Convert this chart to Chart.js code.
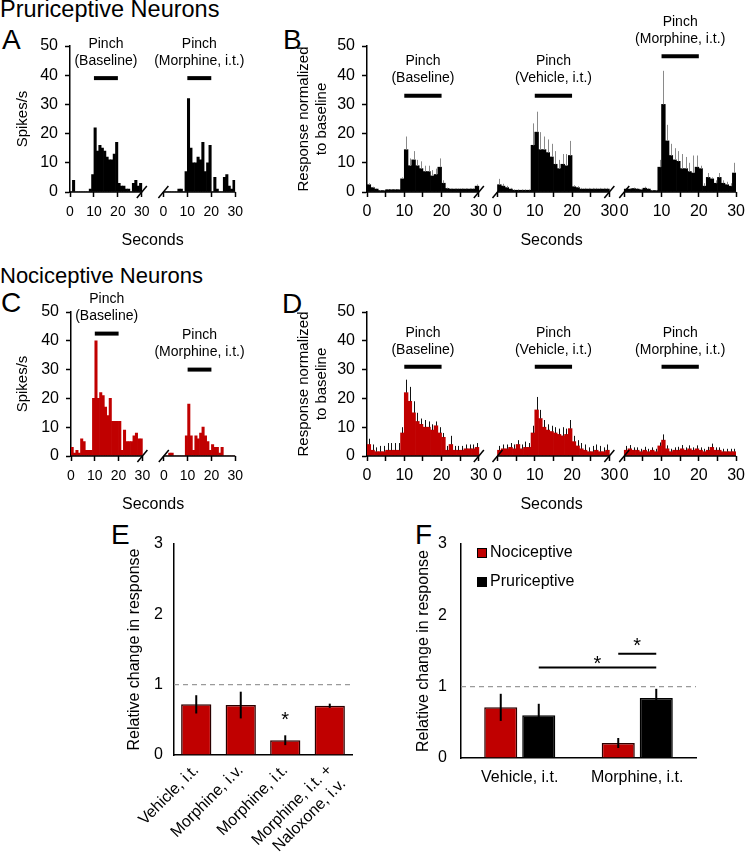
<!DOCTYPE html>
<html>
<head>
<meta charset="utf-8">
<script src="https://cdn.jsdelivr.net/npm/chart.js@4/dist/chart.umd.min.js"></script>
<style>
  body { margin: 0; width: 748px; height: 853px; position: relative; overflow: hidden; background: #fff;
         font-family: "Liberation Sans", Arial, Helvetica, sans-serif; }
  canvas { position: absolute; }
  .lbl { position: absolute; line-height: 1; color: #000; white-space: nowrap; }
  .pl { font-size: 28px; }
</style>
</head>
<body>
<div class="lbl" style="left:0;top:-2px;font-size:23.5px">Pruriceptive Neurons</div>
<div class="lbl" style="left:0;top:265px;font-size:22px">Nociceptive Neurons</div>
<div class="lbl pl" style="left:2px;top:26px">A</div>
<div class="lbl pl" style="left:283px;top:26px">B</div>
<div class="lbl pl" style="left:1px;top:289px">C</div>
<div class="lbl pl" style="left:282px;top:290px">D</div>
<div class="lbl pl" style="left:111px;top:521px">E</div>
<div class="lbl pl" style="left:415px;top:521px">F</div>

<canvas id="chartA" width="250" height="250" style="left:0;top:10px"></canvas>
<canvas id="chartB" width="500" height="250" style="left:250px;top:10px"></canvas>
<canvas id="chartC" width="250" height="250" style="left:0;top:276px"></canvas>
<canvas id="chartD" width="500" height="250" style="left:250px;top:276px"></canvas>
<canvas id="chartE" width="270" height="333" style="left:100px;top:520px"></canvas>
<canvas id="chartF" width="348" height="333" style="left:400px;top:520px"></canvas>

<script>
// spike histograms, 1 s bins from 0 to 29 s
const aBaseline = [0,4,0,0,0,0,0,0,1,6, 22,14,16,15,14,12,11,11,13,17, 3,2,2,1,1,0,3,4,2,3];
const aMorphine = [0,0,0,0,0,0,1,1,0,7, 32,15,10,10,12,11,17,7,10,16, 0,5,1,0,0,5,6,2,1,4];

const bBaseline    = [2.5,1.5,1,0.5,0.5,0.8,0.8,0.8,0.8,4.5, 14.5,9,11,9,8,7,7,5.5,6,8.5, 3,1.2,1,1,1,1,1,1,1,2];
const bBaselineErr = [0.5,0.3,0.2,0.2,0.2,0.2,0.2,0.2,0.2,0.5, 4.5,2.5,3,2,2.5,2,2,2,2,3, 1,0.3,0.2,0.2,0.2,0.3,0.3,0.3,0.3,0.6];
const bVehicle     = [2.5,2,1.5,1,0.6,0.6,0.6,0.6,0.6,16, 20.5,14.5,14.5,13.5,12,9.5,8,9.5,9,12.5, 1.8,1.5,1,1,1,1,1,1,1,1];
const bVehicleErr  = [2,0.8,0.6,0.4,0.3,0.3,0.3,0.3,0.3,7.5, 7,6,4.5,4.5,4.5,4.5,3,3.5,4,5, 0.5,0.5,0.4,0.4,0.4,0.4,0.4,0.4,0.4,0.4];
const bMorphine    = [1,1,1.2,1,0.8,1.3,1,0.5,0.5,8.5, 30,17.5,12.5,11,10.5,8,8,7,6.5,8.5, 8,2,5,4.5,3,5,3,2.5,2,6.5];
const bMorphineErr = [0.3,0.3,0.3,0.3,0.3,0.5,0.3,0.2,0.2,2.5, 11.5,5.5,4,4,3.5,5,4,3,6,4, 1,1,1.5,0.5,1,1.5,1,1,1,3.5];

const cBaseline = [3,1,2,1,6,5,2,2,2,20, 40,20,22,21,17,14,20,12,12,12, 12,2,9,5,5,5,7,8,6,6];
const cMorphine = [0,0,1,1,0,0,0,0,0,7, 18,7,2,7,6,8,10,7,5,2, 4,3,3,1,3,0,0,0,0,0];

const dBaseline    = [4,2,1.5,1.5,1.5,2,2,2,2,8, 22,19,15,12,11,10,10,9,10.5,8, 6.5,2,4,2,2,2,2.5,2.5,2.5,3];
const dBaselineErr = [2,2,1.5,2,2,2.5,2.5,2.5,2.5,2, 4.5,5,4,3,2,2.5,2,2,1.5,2, 1.5,1.5,3,1.5,1.5,1.5,1.5,1.5,1.5,1.5];
const dVehicle     = [2,2.5,2.5,3,2.5,4,2.5,3,3,8, 16,13,10,9,8.5,8,7.5,7,7.5,9.5, 5,3.5,2.5,2,1.5,1.5,2,1.5,1.5,2];
const dVehicleErr  = [1.5,1.5,1.5,1.5,1.5,1.5,1.5,2,1.5,2.5, 4.5,3,2.5,2,2,2,2,3,2,3, 2,2,2,2,1.5,2,2,2,1.5,2];
const dMorphine    = [2,2.5,2,2,1.5,2,1.5,2,1.5,3.5, 5.5,2.5,1.5,2,2,2.5,2,2.5,2,2.5, 2,1.5,2,3,2,2,1.5,1.5,1.5,1.5];
const dMorphineErr = [1.5,1.3,1,1,1,1.2,1,1,1,1.2, 2,1.2,1,1,1.2,1.3,1,1.2,1,1.2, 1,1,1.2,1.3,1,1,1,1,1,1];

// pinch period (s) and height of the marker bar
const pinchPeriod = [10, 20];
const pinchA = [39, 39];
const pinchB = [33, 33, 46.5];
const pinchC = [42.5, 30];
const pinchD = [31, 31, 31];

// E: relative change, nociceptive neurons
const eLabels = ['Vehicle, i.t.', 'Morphine, i.v.', 'Morphine, i.t.', ['Morphine, i.t. +', 'Naloxone, i.v.']];
const eValues = [0.72, 0.71, 0.21, 0.70];
const eErrors = [0.13, 0.19, 0.07, 0.03];

// F: nociceptive vs pruriceptive
const fLabels = ['Vehicle, i.t.', 'Morphine, i.t.'];
const fNoci = [0.71, 0.21];
const fNociErr = [0.19, 0.07];
const fPrur = [0.60, 0.84];
const fPrurErr = [0.16, 0.13];

const RED = '#C00000';
const FONT = '"Liberation Sans", Arial, Helvetica, sans-serif';
Chart.defaults.font.family = FONT;
Chart.defaults.color = '#000';
Chart.defaults.animation = false;
Chart.defaults.plugins.legend.display = false;
Chart.defaults.plugins.tooltip.enabled = false;

const SEG = 30;

function segPoints(series, offsets) {
  const pts = [];
  series.forEach((vals, k) => vals.forEach((v, t) => pts.push({ x: offsets[k] + t + 0.5, y: v })));
  return pts;
}

function slash(ctx, x, y) {
  ctx.beginPath();
  ctx.moveTo(x - 5, y + 6);
  ctx.lineTo(x + 5, y - 6);
  ctx.stroke();
}

const histPlugin = {
  id: 'hist',
  afterDatasetsDraw(chart, args, o) {
    const { ctx, scales: { x, y } } = chart;
    const y0 = y.getPixelForValue(0);
    const ds = chart.data.datasets[0];
    ctx.save();
    // error bars, upward only
    if (o.errors) {
      ctx.strokeStyle = o.errColor;
      ctx.lineWidth = 1;
      chart.getDatasetMeta(0).data.forEach((bar, i) => {
        const e = o.errors[i];
        if (!e) return;
        const xx = Math.round(bar.x) + 0.5;
        ctx.beginPath();
        ctx.moveTo(xx, bar.y);
        ctx.lineTo(xx, y.getPixelForValue(ds.data[i].y + e));
        ctx.stroke();
      });
    }
    // broken x axis
    ctx.strokeStyle = '#000';
    ctx.lineWidth = 1.5;
    const n = o.offsets.length;
    o.offsets.forEach((off, k) => {
      const xs = x.getPixelForValue(off), xe = x.getPixelForValue(off + SEG);
      ctx.beginPath();
      ctx.moveTo(xs, y0);
      ctx.lineTo(xe, y0);
      ctx.stroke();
      if (k > 0) slash(ctx, xs, y0);
      if (k < n - 1) slash(ctx, xe, y0);
    });
    // pinch markers
    ctx.fillStyle = '#000';
    ctx.font = '14px ' + FONT;
    ctx.textAlign = 'center';
    ctx.textBaseline = 'middle';
    o.offsets.forEach((off, k) => {
      const yp = y.getPixelForValue(o.pinch[k]);
      const x1 = x.getPixelForValue(off + pinchPeriod[0]);
      const x2 = x.getPixelForValue(off + pinchPeriod[1]);
      ctx.lineWidth = 4;
      ctx.beginPath();
      ctx.moveTo(x1, yp);
      ctx.lineTo(x2, yp);
      ctx.stroke();
      const xm = (x1 + x2) / 2;
      ctx.fillText('Pinch', xm, yp - 34);
      ctx.fillText(o.titles[k], xm, yp - 17);
    });
    ctx.restore();
  }
};

function histChart(id, cfg) {
  const offsets = cfg.offsets;
  const tickVals = [];
  offsets.forEach(off => { for (let t = 0; t <= SEG; t += cfg.tickStep) tickVals.push(off + t); });
  const errors = cfg.errors ? [].concat(...cfg.errors) : null;
  return new Chart(document.getElementById(id), {
    type: 'bar',
    data: {
      datasets: [{
        data: segPoints(cfg.series, offsets),
        backgroundColor: cfg.color,
        borderWidth: 0,
        barPercentage: 1,
        categoryPercentage: 1
      }]
    },
    options: {
      responsive: false,
      layout: { padding: { top: 36, right: cfg.padRight, left: 0, bottom: 0 } },
      scales: {
        x: {
          type: 'linear',
          min: 0,
          max: offsets[offsets.length - 1] + SEG,
          offset: false,
          afterBuildTicks: s => { s.ticks = tickVals.map(v => ({ value: v })); },
          afterFit: s => { s.height = cfg.xHeight; },
          ticks: {
            autoSkip: false, maxRotation: 0, minRotation: 0,
            padding: cfg.xTickPad,
            font: { size: cfg.xTickSize },
            callback: v => {
              let off = 0;
              offsets.forEach(o => { if (v >= o - 0.01) off = o; });
              const t = Math.round(v - off);
              return t % 10 === 0 ? String(t) : '';
            }
          },
          grid: { drawOnChartArea: false, offset: false, drawTicks: true, tickLength: 5, tickColor: '#000', tickWidth: 1.5 },
          border: { display: false },
          title: { display: true, text: 'Seconds', font: { size: 16 }, padding: { top: 0, bottom: cfg.secPad } }
        },
        y: {
          min: 0, max: 50,
          afterFit: s => { s.width = cfg.yWidth; },
          ticks: { stepSize: 10, padding: 7, font: { size: 16 } },
          grid: { drawOnChartArea: false, tickLength: 5, tickColor: '#000', tickWidth: 1.5 },
          border: { display: true, color: '#000', width: 1.5 },
          title: { display: true, text: cfg.yTitle, font: { size: 15, lineHeight: 1.25 }, padding: { top: cfg.yTitlePad, bottom: 0 } }
        }
      },
      plugins: {
        hist: { offsets, errors, errColor: cfg.errColor, pinch: cfg.pinch, titles: cfg.titles }
      }
    },
    plugins: [histPlugin]
  });
}

histChart('chartA', {
  series: [aBaseline, aMorphine], offsets: [0, 39], tickStep: 10, color: '#000',
  pinch: pinchA, titles: ['(Baseline)', '(Morphine, i.t.)'],
  yTitle: 'Spikes/s', yWidth: 70, yTitlePad: 13, padRight: 11,
  xHeight: 68, xTickPad: 7, xTickSize: 14, secPad: 10
});

histChart('chartB', {
  series: [bBaseline, bVehicle, bMorphine], errors: [bBaselineErr, bVehicleErr, bMorphineErr],
  errColor: '#8a8a8a', offsets: [0, 35, 69], tickStep: 5, color: '#000',
  pinch: pinchB, titles: ['(Baseline)', '(Vehicle, i.t.)', '(Morphine, i.t.)'],
  yTitle: ['Response normalized', 'to baseline'], yWidth: 117, yTitlePad: 44, padRight: 10,
  xHeight: 68, xTickPad: 5, xTickSize: 16, secPad: 10
});

histChart('chartC', {
  series: [cBaseline, cMorphine], offsets: [0, 39], tickStep: 10, color: RED,
  pinch: pinchC, titles: ['(Baseline)', '(Morphine, i.t.)'],
  yTitle: 'Spikes/s', yWidth: 71, yTitlePad: 13, padRight: 11,
  xHeight: 70, xTickPad: 7, xTickSize: 14, secPad: 12
});

histChart('chartD', {
  series: [dBaseline, dVehicle, dMorphine], errors: [dBaselineErr, dVehicleErr, dMorphineErr],
  errColor: '#111', offsets: [0, 35, 69], tickStep: 5, color: RED,
  pinch: pinchD, titles: ['(Baseline)', '(Vehicle, i.t.)', '(Morphine, i.t.)'],
  yTitle: ['Response normalized', 'to baseline'], yWidth: 117, yTitlePad: 44, padRight: 10,
  xHeight: 70, xTickPad: 5, xTickSize: 16, secPad: 12
});

// summary bar charts
const barPlugin = {
  id: 'barExtras',
  afterDatasetsDraw(chart, args, o) {
    const { ctx, chartArea: ca, scales: { y } } = chart;
    ctx.save();
    const yr = y.getPixelForValue(o.refLine);
    ctx.strokeStyle = '#9a9a9a';
    ctx.lineWidth = 1.2;
    ctx.setLineDash([5, 4]);
    ctx.beginPath();
    ctx.moveTo(ca.left, yr);
    ctx.lineTo(ca.right, yr);
    ctx.stroke();
    ctx.setLineDash([]);

    ctx.strokeStyle = '#000';
    ctx.lineWidth = 2;
    chart.data.datasets.forEach((ds, d) => {
      chart.getDatasetMeta(d).data.forEach((bar, i) => {
        const v = ds.data[i], e = o.errors[d][i];
        ctx.beginPath();
        ctx.moveTo(bar.x, y.getPixelForValue(v - e));
        ctx.lineTo(bar.x, y.getPixelForValue(v + e));
        ctx.stroke();
      });
    });

    ctx.fillStyle = '#000';
    ctx.font = '20px ' + FONT;
    ctx.textAlign = 'center';
    ctx.textBaseline = 'alphabetic';
    (o.stars || []).forEach(s => {
      const bar = chart.getDatasetMeta(s.ds).data[s.idx];
      ctx.fillText('*', bar.x, y.getPixelForValue(s.y) + 12);
    });
    (o.brackets || []).forEach(b => {
      const x1 = chart.getDatasetMeta(b.from[0]).data[b.from[1]].x;
      const x2 = chart.getDatasetMeta(b.to[0]).data[b.to[1]].x;
      const yy = y.getPixelForValue(b.y);
      ctx.lineWidth = 2;
      ctx.beginPath();
      ctx.moveTo(x1, yy);
      ctx.lineTo(x2, yy);
      ctx.stroke();
      ctx.fillText('*', (x1 + x2) / 2, y.getPixelForValue(b.star) + 12);
    });

    if (o.legend) {
      ctx.font = '16px ' + FONT;
      ctx.textAlign = 'left';
      ctx.textBaseline = 'middle';
      ctx.lineWidth = 1;
      chart.data.datasets.forEach((ds, d) => {
        const top = ca.top + 4 + d * 29;
        ctx.fillStyle = ds.backgroundColor;
        ctx.fillRect(ca.left + 16, top, 10, 10);
        ctx.strokeStyle = '#000';
        ctx.strokeRect(ca.left + 16.5, top + 0.5, 9, 9);
        ctx.fillStyle = '#000';
        ctx.fillText(ds.label, ca.left + 29, top + 5);
      });
    }
    ctx.restore();
  }
};

function summaryScales(cfg) {
  return {
    x: {
      afterFit: s => { s.height = cfg.xHeight; },
      ticks: { autoSkip: false, minRotation: cfg.rot, maxRotation: cfg.rot, padding: cfg.xTickPad, font: { size: 16 } },
      grid: { display: false, drawTicks: false },
      border: { display: true, color: '#000', width: 1.5 }
    },
    y: {
      min: 0, max: 3,
      afterFit: s => { s.width = cfg.yWidth; },
      ticks: { stepSize: 1, padding: cfg.yTickPad, font: { size: 16 } },
      grid: { drawOnChartArea: false, drawTicks: false },
      border: { display: true, color: '#000', width: 1.5 },
      title: { display: true, text: 'Relative change in response', font: { size: 16 }, padding: { top: cfg.yTitlePad, bottom: 0 } }
    }
  };
}

new Chart(document.getElementById('chartE'), {
  type: 'bar',
  data: {
    labels: eLabels,
    datasets: [{ data: eValues, backgroundColor: RED, borderColor: '#2a0000', borderWidth: 1.5,
                 categoryPercentage: 1, barPercentage: 0.68 }]
  },
  options: {
    responsive: false,
    layout: { padding: { top: 24, right: 18, left: 0, bottom: 0 } },
    scales: summaryScales({ xHeight: 98, rot: 45, xTickPad: 6, yWidth: 74, yTickPad: 11, yTitlePad: 25 }),
    plugins: {
      barExtras: { refLine: 1, errors: [eErrors], stars: [{ ds: 0, idx: 2, y: 0.576 }] }
    }
  },
  plugins: [barPlugin]
});

new Chart(document.getElementById('chartF'), {
  type: 'bar',
  data: {
    labels: fLabels,
    datasets: [
      { label: 'Nociceptive', data: fNoci, backgroundColor: RED, borderColor: '#2a0000', borderWidth: 1.5,
        categoryPercentage: 0.647, barPercentage: 0.87 },
      { label: 'Pruriceptive', data: fPrur, backgroundColor: '#000', borderColor: '#000', borderWidth: 1.5,
        categoryPercentage: 0.647, barPercentage: 0.87 }
    ]
  },
  options: {
    responsive: false,
    layout: { padding: { top: 24, right: 52, left: 0, bottom: 0 } },
    scales: summaryScales({ xHeight: 95, rot: 0, xTickPad: 10, yWidth: 61, yTickPad: 14, yTitlePad: 14 }),
    plugins: {
      barExtras: {
        refLine: 1, errors: [fNociErr, fPrurErr], legend: true,
        brackets: [
          { from: [1, 0], to: [1, 1], y: 1.27, star: 1.4 },
          { from: [0, 1], to: [1, 1], y: 1.46, star: 1.66 }
        ]
      }
    }
  },
  plugins: [barPlugin]
});
</script>
</body>
</html>
